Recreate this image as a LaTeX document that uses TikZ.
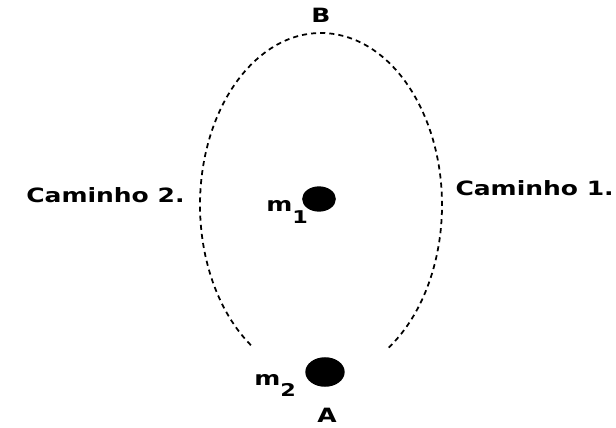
\documentclass[tikz,border=0pt]{standalone}
\usepackage{fontspec}
\setmainfont{DejaVu Sans}
\usepackage{graphicx}
\usetikzlibrary{shapes.geometric,positioning,calc}
% letters of the figure are drawn wide
\newcommand{\wide}[1]{\scalebox{1.27}[1]{#1}}
\newcommand{\massname}[1]{\wide{m\raisebox{-8.5pt}{\fontsize{12.5}{14}\selectfont #1}}}
\tikzset{
    % Bold text labels
    label text/.style={
        font=\fontsize{14}{16}\selectfont\bfseries,
        inner sep=0pt
    },
    % Point masses
    mass/.style={
        ellipse,
        fill=black,
        inner sep=0pt
    },
    % Dashed orbit paths
    path line/.style={
        line width=1.25pt,
        dash pattern=on 3.6pt off 2.9pt
    }
}
\begin{document}
\begin{tikzpicture}[x=0.025cm, y=0.025cm]
        \useasboundingbox (0,0) rectangle (616,427);

        % Closed loop, open at the bottom
        \coordinate (centre) at (321,222);
        \draw[path line] ($(centre)+(-56:121 and 172)$) arc[start angle=-56, end angle=236, x radius=121, y radius=172];

        % End points
        \node[label text] (B) at (321,412) {\wide{B}};
        \node[label text] (A) at (327,12) {\wide{A}};

        % Masses
        \node[mass, minimum width=24, minimum height=18] (m1) at (319,228) {};
        \node[label text, anchor=base west] (m1 name) at (266,215) {\massname{1}};
        \node[mass, minimum width=28, minimum height=21] (m2) at (325,55) {};
        \node[label text, anchor=base west] (m2 name) at (254,42) {\massname{2}};

        % Paths
        \node[label text, anchor=base west] (path2) at (26,224) {\wide{Caminho 2.}};
        \node[label text, anchor=base east] (path1) at (614,231) {\wide{Caminho 1.}};
\end{tikzpicture}
\end{document}
